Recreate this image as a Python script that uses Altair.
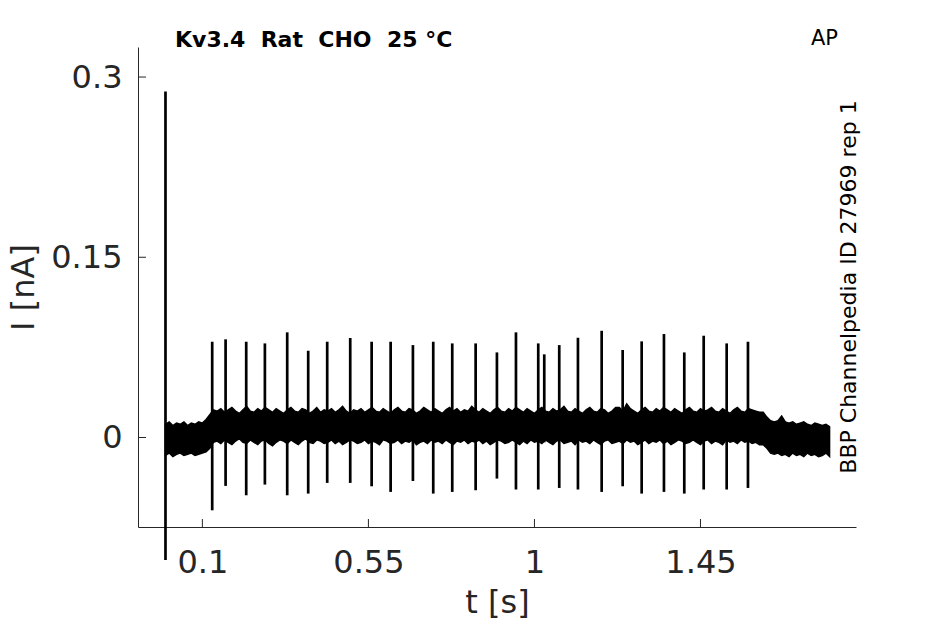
import altair as alt
import numpy as np
import pandas as pd

# ---------------- data ----------------
# noise band envelope, sampled every 10 ms from 0 to 1.80 s
pre_up = [0.011, 0.013, 0.010, 0.012, 0.011, 0.013, 0.010, 0.012, 0.011, 0.013, 0.012, 0.015]
pre_lo = [-0.015, -0.013, -0.016, -0.014, -0.013, -0.015, -0.014, -0.013, -0.015, -0.014, -0.013, -0.012]
rise_up = [0.019, 0.023]
rise_lo = [-0.009, -0.004]
body_up = [
    0.022, 0.024, 0.021, 0.023, 0.025, 0.022, 0.020, 0.023, 0.026, 0.022,
    0.021, 0.024, 0.022, 0.025, 0.023, 0.021, 0.024, 0.022, 0.020, 0.023,
    0.025, 0.022, 0.021, 0.024, 0.023, 0.020, 0.022, 0.025, 0.021, 0.023,
    0.022, 0.024, 0.021, 0.023, 0.026, 0.022, 0.020, 0.023, 0.022, 0.024,
    0.021, 0.023, 0.025, 0.022, 0.021, 0.024, 0.022, 0.020, 0.023, 0.025,
    0.022, 0.021, 0.024, 0.023, 0.020, 0.022, 0.025, 0.023, 0.021, 0.024,
    0.022, 0.020, 0.023, 0.025, 0.022, 0.024, 0.021, 0.023, 0.022, 0.026,
    0.023, 0.021, 0.024, 0.022, 0.020, 0.023, 0.025, 0.022, 0.021, 0.024,
    0.022, 0.025, 0.023, 0.021, 0.024, 0.022, 0.020, 0.023, 0.025, 0.022,
    0.021, 0.024, 0.022, 0.023, 0.026, 0.022, 0.021, 0.024, 0.022, 0.020,
    0.023, 0.025, 0.022, 0.021, 0.024, 0.023, 0.020, 0.022, 0.025, 0.025,
    0.022, 0.028, 0.024, 0.022, 0.020, 0.023, 0.025, 0.022, 0.021, 0.024,
    0.022, 0.025, 0.023, 0.021, 0.024, 0.022, 0.020, 0.023, 0.025, 0.022,
    0.021, 0.024, 0.022, 0.023, 0.025, 0.022, 0.021, 0.024, 0.022, 0.020,
    0.023, 0.025, 0.022, 0.021, 0.024, 0.023, 0.022, 0.021,
]
body_lo = [
    -0.003, -0.005, -0.002, -0.004, -0.006, -0.003, -0.001, -0.004, -0.005, -0.002,
    -0.004, -0.006, -0.003, -0.002, -0.005, -0.007, -0.004, -0.002, -0.003, -0.005,
    -0.002, -0.004, -0.006, -0.003, -0.001, -0.004, -0.005, -0.002, -0.003, -0.005,
    -0.004, -0.002, -0.005, -0.003, -0.006, -0.004, -0.002, -0.003, -0.005, -0.004,
    -0.002, -0.005, -0.003, -0.004, -0.006, -0.002, -0.003, -0.005, -0.004, -0.002,
    -0.005, -0.003, -0.004, -0.002, -0.006, -0.004, -0.003, -0.005, -0.002, -0.004,
    -0.003, -0.005, -0.002, -0.004, -0.006, -0.003, -0.004, -0.002, -0.005, -0.003,
    -0.004, -0.002, -0.005, -0.003, -0.006, -0.004, -0.002, -0.003, -0.005, -0.004,
    -0.002, -0.004, -0.006, -0.003, -0.005, -0.002, -0.004, -0.003, -0.005, -0.002,
    -0.004, -0.006, -0.003, -0.002, -0.005, -0.004, -0.003, -0.006, -0.002, -0.004,
    -0.003, -0.005, -0.002, -0.004, -0.006, -0.003, -0.002, -0.005, -0.004, -0.003,
    -0.005, -0.002, -0.004, -0.003, -0.006, -0.004, -0.002, -0.005, -0.003, -0.004,
    -0.002, -0.005, -0.003, -0.006, -0.004, -0.002, -0.003, -0.005, -0.004, -0.002,
    -0.004, -0.006, -0.003, -0.002, -0.005, -0.003, -0.004, -0.006, -0.002, -0.004,
    -0.003, -0.005, -0.002, -0.004, -0.003, -0.005, -0.004, -0.006,
]
decay_up = [0.021, 0.017, 0.014]
decay_lo = [-0.006, -0.009, -0.013]
tail_up = [0.013, 0.014, 0.018, 0.013, 0.012, 0.013, 0.011, 0.012, 0.013, 0.011, 0.010, 0.012, 0.011, 0.010, 0.011, 0.009]
tail_lo = [-0.014, -0.013, -0.015, -0.014, -0.016, -0.013, -0.015, -0.014, -0.016, -0.013, -0.015, -0.014, -0.016, -0.015, -0.013, -0.016]

band_upper = pre_up + rise_up + body_up + decay_up + tail_up
band_lower = pre_lo + rise_lo + body_lo + decay_lo + tail_lo
band_t = np.round(np.arange(len(band_upper)) * 0.01, 2)

# spikes: time [s], peak [nA], trough [nA]
spike_t = [0.0, 0.1266, 0.1629, 0.2188, 0.2694, 0.3299, 0.3868, 0.4383, 0.5007, 0.5587,
           0.6102, 0.6706, 0.7257, 0.7772, 0.8406, 0.8983, 0.9499, 1.0103, 1.0266,
           1.0672, 1.1179, 1.1822, 1.2391, 1.2906, 1.3510, 1.4061, 1.4587, 1.5210, 1.5787]
spike_hi = [0.288, 0.0797, 0.0817, 0.0797, 0.0783, 0.0875, 0.0722, 0.0797, 0.0828, 0.0797,
            0.0797, 0.0769, 0.0797, 0.0783, 0.0783, 0.0708, 0.0875, 0.0783, 0.0692,
            0.0769, 0.0830, 0.0888, 0.0728, 0.0800, 0.0861, 0.0708, 0.0847, 0.0783, 0.0797]
spike_lo = [-0.102, -0.0606, -0.0403, -0.0481, -0.0392, -0.0481, -0.0467, -0.0378, -0.0378, -0.0406,
            -0.0453, -0.0362, -0.0467, -0.0453, -0.0439, -0.0342, -0.0433, -0.0433, -0.0040,
            -0.0420, -0.0433, -0.0453, -0.0406, -0.0467, -0.0453, -0.0467, -0.0433, -0.0433, -0.0420]

x_ticks = [0.1, 0.55, 1, 1.45]
y_ticks = [0, 0.15, 0.3]
x_domain = [-0.0745, 1.8715]
y_domain = [-0.0745, 0.325]

NB = "\u00a0"
title_text = ["Kv3.4" + NB * 2 + "Rat" + NB * 2 + "CHO" + NB * 2 + "25" + NB + "°C"]
protocol_text = ["AP"]
source_text = ["BBP Channelpedia ID 27969 rep 1"]

# ---------------- chart ----------------
W, H = 718, 480
AX = "#262626"
FONT = "DejaVu Sans"

band_df = pd.DataFrame({"t": band_t, "lo": band_lower, "hi": band_upper})
spike_df = pd.DataFrame({"t": spike_t, "lo": spike_lo, "hi": spike_hi})
xt_df = pd.DataFrame({"v": x_ticks})
yt_df = pd.DataFrame({"v": y_ticks})

xs = alt.Scale(domain=x_domain, nice=False, zero=False)
ys = alt.Scale(domain=y_domain, nice=False, zero=False)

x_axis = alt.Axis(values=x_ticks, labelExpr="format(datum.value, '')", title="t [s]",
                  grid=False, ticks=False, tickSize=0, labelPadding=45,
                  labelBaseline="alphabetic", labelFontSize=32, labelColor=AX,
                  titleFontSize=32, titleColor=AX, titleFontWeight="normal",
                  titleX=359, titleY=85, titleBaseline="alphabetic",
                  domainColor=AX, domainWidth=1, labelFlush=False)
y_axis = alt.Axis(values=y_ticks, labelExpr="format(datum.value, '')", title="I [nA]",
                  grid=False, ticks=False, tickSize=0, labelPadding=16,
                  labelFontSize=32, labelColor=AX,
                  titleFontSize=32, titleColor=AX, titleFontWeight="normal",
                  titleAngle=270, titleX=-105, titleY=240, titleBaseline="alphabetic",
                  titleAlign="center", domainColor=AX, domainWidth=1, labelFlush=False)

band = alt.Chart(band_df).mark_area(color="black", stroke="black", strokeWidth=1.4,
                                    interpolate="linear").encode(
    x=alt.X("t:Q", scale=xs, axis=x_axis),
    y=alt.Y("lo:Q", scale=ys, axis=y_axis),
    y2="hi:Q",
)

spikes = alt.Chart(spike_df).mark_rule(color="black", strokeWidth=2.7).encode(
    x="t:Q", y="lo:Q", y2="hi:Q"
)

xticks = alt.Chart(xt_df).mark_rule(color=AX, strokeWidth=1).encode(
    x="v:Q", y=alt.value(H), y2=alt.value(H - 8)
)
yticks = alt.Chart(yt_df).mark_rule(color=AX, strokeWidth=1).encode(
    y="v:Q", x=alt.value(0), x2=alt.value(8)
)

title = alt.Chart(pd.DataFrame({"s": title_text})).mark_text(
    font=FONT, fontSize=22, fontWeight="bold", color="black", align="left",
    baseline="alphabetic").encode(text="s:N", x=alt.value(37), y=alt.value(0))
proto = alt.Chart(pd.DataFrame({"s": protocol_text})).mark_text(
    font=FONT, fontSize=21, color="black", align="left",
    baseline="alphabetic").encode(text="s:N", x=alt.value(673), y=alt.value(-2))
source = alt.Chart(pd.DataFrame({"s": source_text})).mark_text(
    font=FONT, fontSize=22, color="black", align="center", angle=270,
    baseline="alphabetic").encode(text="s:N", x=alt.value(718), y=alt.value(240))

chart = alt.layer(band, spikes, xticks, yticks, title, proto, source).properties(
    width=W, height=H,
    autosize=alt.AutoSizeParams(type="none"),
    padding={"left": 130, "top": 39, "right": 80, "bottom": 96},
).configure(font=FONT).configure_view(stroke=None).configure_axis(
    labelFont=FONT, titleFont=FONT
)

chart.save("out.html", embed_options={"renderer": "svg", "actions": False})
